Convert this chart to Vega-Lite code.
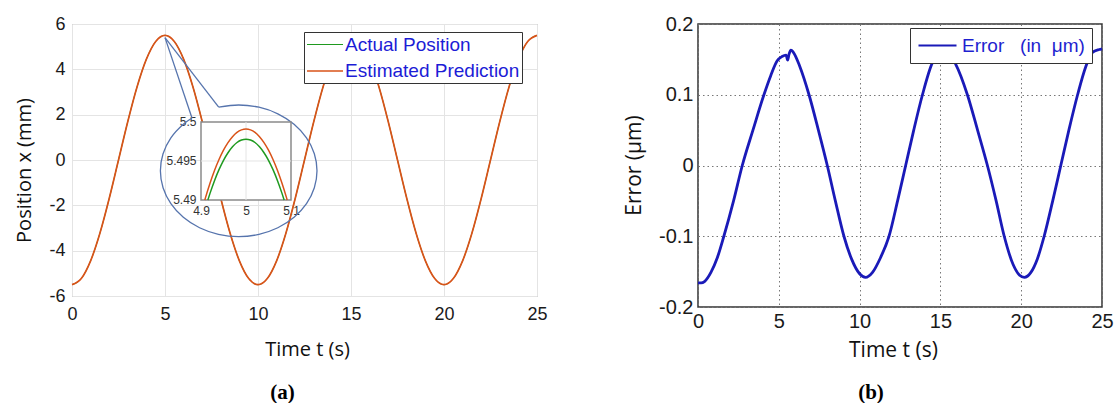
{
"$schema":"https://vega.github.io/schema/vega-lite/v6.json",
"autosize":{"type":"pad"},
"padding":{"left":13,"top":13,"right":0,"bottom":0},
"background":"white",
"bounds":"flush",
"spacing":161,
"config":{"font":"Liberation Sans","axis":{"labelFont":"Liberation Sans","titleFont":"Open Sans","titleFontWeight":"normal","titleColor":"#111","labelColor":"#1a1a1a","labelFlush":false,"labelOverlap":false},"legend":{"labelFont":"Liberation Sans"}},
"datasets":{
"pos":[
{"t":0,"a":-5.5,"e":-5.5},{"t":0.5,"a":-5.2308,"e":-5.2308},{"t":1,"a":-4.4496,"e":-4.4496},{"t":1.5,"a":-3.2328,"e":-3.2328},{"t":2,"a":-1.6996,"e":-1.6996},{"t":2.5,"a":0,"e":0},{"t":3,"a":1.6996,"e":1.6996},{"t":3.5,"a":3.2328,"e":3.2328},{"t":4,"a":4.4496,"e":4.4496},{"t":4.5,"a":5.2308,"e":5.2308},
{"t":5,"a":5.4978,"e":5.4991},{"t":5.5,"a":5.2308,"e":5.2308},{"t":6,"a":4.4496,"e":4.4496},{"t":6.5,"a":3.2328,"e":3.2328},{"t":7,"a":1.6996,"e":1.6996},{"t":7.5,"a":0,"e":0},{"t":8,"a":-1.6996,"e":-1.6996},{"t":8.5,"a":-3.2328,"e":-3.2328},{"t":9,"a":-4.4496,"e":-4.4496},{"t":9.5,"a":-5.2308,"e":-5.2308},
{"t":10,"a":-5.5,"e":-5.5},{"t":10.5,"a":-5.2308,"e":-5.2308},{"t":11,"a":-4.4496,"e":-4.4496},{"t":11.5,"a":-3.2328,"e":-3.2328},{"t":12,"a":-1.6996,"e":-1.6996},{"t":12.5,"a":0,"e":0},{"t":13,"a":1.6996,"e":1.6996},{"t":13.5,"a":3.2328,"e":3.2328},{"t":14,"a":4.4496,"e":4.4496},{"t":14.5,"a":5.2308,"e":5.2308},
{"t":15,"a":5.4978,"e":5.4991},{"t":15.5,"a":5.2308,"e":5.2308},{"t":16,"a":4.4496,"e":4.4496},{"t":16.5,"a":3.2328,"e":3.2328},{"t":17,"a":1.6996,"e":1.6996},{"t":17.5,"a":0,"e":0},{"t":18,"a":-1.6996,"e":-1.6996},{"t":18.5,"a":-3.2328,"e":-3.2328},{"t":19,"a":-4.4496,"e":-4.4496},{"t":19.5,"a":-5.2308,"e":-5.2308},
{"t":20,"a":-5.5,"e":-5.5},{"t":20.5,"a":-5.2308,"e":-5.2308},{"t":21,"a":-4.4496,"e":-4.4496},{"t":21.5,"a":-3.2328,"e":-3.2328},{"t":22,"a":-1.6996,"e":-1.6996},{"t":22.5,"a":0,"e":0},{"t":23,"a":1.6996,"e":1.6996},{"t":23.5,"a":3.2328,"e":3.2328},{"t":24,"a":4.4496,"e":4.4496},{"t":24.5,"a":5.2308,"e":5.2308},{"t":25,"a":5.4978,"e":5.4991}
],
"ellipse":[
{"i":0,"t":7.887,"y":2.331},{"i":1,"t":8.962,"y":2.427},{"i":2,"t":10.052,"y":2.328},{"i":3,"t":11.067,"y":2.038},{"i":4,"t":11.939,"y":1.577},{"i":5,"t":12.608,"y":0.976},{"i":6,"t":13.029,"y":0.275},{"i":7,"t":13.172,"y":-0.476},{"i":8,"t":13.029,"y":-1.227},{"i":9,"t":12.608,"y":-1.928},{"i":10,"t":11.939,"y":-2.529},{"i":11,"t":11.067,"y":-2.99},{"i":12,"t":10.052,"y":-3.28},{"i":13,"t":8.962,"y":-3.379},{"i":14,"t":7.872,"y":-3.28},{"i":15,"t":6.857,"y":-2.99},{"i":16,"t":5.985,"y":-2.529},{"i":17,"t":5.316,"y":-1.928},{"i":18,"t":4.895,"y":-1.227},{"i":19,"t":4.752,"y":-0.476},{"i":20,"t":4.895,"y":0.275},{"i":21,"t":5.316,"y":0.976},{"i":22,"t":5.985,"y":1.577},{"i":23,"t":6.451,"y":1.854}
],
"callout":[
{"g":"a","t":5.0,"y":5.4},{"g":"a","t":7.887,"y":2.331},{"g":"b","t":5.0,"y":5.4},{"g":"b","t":6.451,"y":1.854}
],
"ibox":[{"x1":4.9,"x2":5.1,"y1":5.49,"y2":5.5}],
"igrid":[{"xa":5,"xb":5,"ya":5.49,"yb":5.5},{"xa":4.9,"xb":5.1,"ya":5.495,"yb":5.495}],
"iact":[
{"t":4.9152,"y":5.49},{"t":4.92,"y":5.49085},{"t":4.93,"y":5.49248},{"t":4.94,"y":5.49389},{"t":4.95,"y":5.49509},{"t":4.96,"y":5.49606},{"t":4.97,"y":5.49682},{"t":4.98,"y":5.49737},{"t":4.99,"y":5.49769},{"t":5.0,"y":5.4978},{"t":5.01,"y":5.49769},{"t":5.02,"y":5.49737},{"t":5.03,"y":5.49682},{"t":5.04,"y":5.49606},{"t":5.05,"y":5.49509},{"t":5.06,"y":5.49389},{"t":5.07,"y":5.49248},{"t":5.08,"y":5.49085},{"t":5.0848,"y":5.49}
],
"iest":[
{"t":4.9085,"y":5.49},{"t":4.91,"y":5.4903},{"t":4.92,"y":5.49215},{"t":4.93,"y":5.49378},{"t":4.94,"y":5.49519},{"t":4.95,"y":5.49639},{"t":4.96,"y":5.49736},{"t":4.97,"y":5.49812},{"t":4.98,"y":5.49867},{"t":4.99,"y":5.49899},{"t":5.0,"y":5.4991},{"t":5.01,"y":5.49899},{"t":5.02,"y":5.49867},{"t":5.03,"y":5.49812},{"t":5.04,"y":5.49736},{"t":5.05,"y":5.49639},{"t":5.06,"y":5.49519},{"t":5.07,"y":5.49378},{"t":5.08,"y":5.49215},{"t":5.09,"y":5.4903},{"t":5.0915,"y":5.49}
],
"err":[
{"t":0,"e":-0.166},{"t":0.2,"e":-0.166},{"t":0.4,"e":-0.164},{"t":0.8,"e":-0.151},{"t":1.2,"e":-0.13},{"t":1.6,"e":-0.1},{"t":2.2,"e":-0.05},{"t":2.74,"e":0},{"t":3.4,"e":0.05},{"t":4.08,"e":0.1},{"t":4.5,"e":0.127},{"t":4.9,"e":0.148},{"t":5.2,"e":0.154},{"t":5.45,"e":0.156},{"t":5.55,"e":0.149},{"t":5.63,"e":0.157},{"t":5.75,"e":0.163},{"t":5.9,"e":0.16},{"t":6.3,"e":0.14},{"t":6.87,"e":0.1},{"t":7.45,"e":0.05},{"t":8.0,"e":0},{"t":8.5,"e":-0.05},{"t":9.03,"e":-0.1},{"t":9.5,"e":-0.132},{"t":10.0,"e":-0.153},{"t":10.37,"e":-0.158},{"t":10.8,"e":-0.151},{"t":11.3,"e":-0.13},{"t":11.82,"e":-0.1},{"t":12.35,"e":-0.05},{"t":12.85,"e":0},{"t":13.35,"e":0.05},{"t":13.89,"e":0.1},{"t":14.5,"e":0.145},{"t":15.0,"e":0.16},{"t":15.3,"e":0.162},{"t":15.95,"e":0.143},{"t":16.67,"e":0.1},{"t":17.3,"e":0.05},{"t":17.91,"e":0},{"t":18.45,"e":-0.05},{"t":18.95,"e":-0.1},{"t":19.5,"e":-0.14},{"t":19.9,"e":-0.155},{"t":20.19,"e":-0.158},{"t":20.6,"e":-0.151},{"t":21.0,"e":-0.132},{"t":21.42,"e":-0.1},{"t":21.95,"e":-0.05},{"t":22.45,"e":0},{"t":22.95,"e":0.05},{"t":23.49,"e":0.1},{"t":24.0,"e":0.14},{"t":24.41,"e":0.16},{"t":24.83,"e":0.164},{"t":25,"e":0.165}
]
},
"resolve":{"scale":{"color":"independent","strokeWidth":"independent"},"legend":{"color":"independent"}},
"hconcat":[
{
"width":465,"height":272,
"view":{"stroke":"#9a9a9a","strokeWidth":1},
"title":{"text":"(a)","orient":"bottom","anchor":"middle","font":"Liberation Serif","fontSize":21,"fontWeight":"bold","color":"#000","offset":23,"dx":-22},
"layer":[
{"layer":[
{"data":{"name":"pos"},
"transform":[{"fold":["a","e"],"as":["s","v"]}],
"mark":{"type":"line","interpolate":"monotone"},
"encoding":{
"x":{"field":"t","type":"quantitative","scale":{"domain":[0,25],"nice":false,"zero":false},
"axis":{"values":[0,5,10,15,20,25],"labelExpr":"datum.value + ''","labelFontSize":18,"labelPadding":9,"ticks":false,"domain":false,"grid":true,"gridColor":"#e4e4e4","title":"Time t (s)","titleFontSize":20,"titleX":235,"titleY":53,"titleBaseline":"middle","titleAlign":"center"}},
"y":{"field":"v","type":"quantitative","scale":{"domain":[-6,6],"nice":false,"zero":false},
"axis":{"values":[-6,-4,-2,0,2,4,6],"labelExpr":"datum.value + ''","labelFontSize":18,"labelPadding":7,"ticks":false,"domain":false,"grid":true,"gridColor":"#e4e4e4","title":"Position x (mm)","titleFontSize":20,"titleX":-48,"titleY":146,"titleAngle":-90,"titleBaseline":"middle","titleAlign":"center"}},
"strokeWidth":{"field":"s","type":"nominal","scale":{"domain":["a","e"],"range":[1,1.7]},"legend":null},
"color":{"field":"s","type":"nominal","scale":{"domain":["a","e"],"range":["#1f9a1f","#d95319"]},
"legend":{"orient":"none","legendX":232,"legendY":8,"title":null,"symbolType":"M-1.8,0H1.8","symbolSize":400,"symbolOffset":8,"symbolStrokeWidth":1.5,"labelFontSize":19,"labelColor":"#1c1cd6","labelLimit":400,"labelOffset":9,"padding":2,"rowPadding":5,"strokeColor":"#333","fillColor":"white","labelExpr":"datum.value == 'a' ? 'Actual Position' : 'Estimated Prediction'"}}
}},
{"data":{"name":"ellipse"},"mark":{"type":"line","interpolate":"catmull-rom","color":"#5674ad","strokeWidth":1.3},
"encoding":{"x":{"field":"t","type":"quantitative","scale":{"domain":[0,25],"nice":false,"zero":false}},"y":{"field":"y","type":"quantitative","scale":{"domain":[-6,6],"nice":false,"zero":false}},"order":{"field":"i","type":"quantitative"}}},
{"data":{"name":"callout"},"mark":{"type":"line","color":"#5674ad","strokeWidth":1.3},
"encoding":{"x":{"field":"t","type":"quantitative","scale":{"domain":[0,25],"nice":false,"zero":false}},"y":{"field":"y","type":"quantitative","scale":{"domain":[-6,6],"nice":false,"zero":false}},"detail":{"field":"g","type":"nominal"}}}
]},
{"layer":[
{"data":{"name":"ibox"},"mark":{"type":"rect","fill":"white","stroke":"#8a8a8a","strokeWidth":1.5},
"encoding":{
"x":{"field":"x1","type":"quantitative","scale":{"domain":[4.61333,5.64667],"nice":false,"zero":false},
"axis":{"orient":"bottom","offset":-96,"values":[4.9,5,5.1],"labelExpr":"datum.value + ''","labelFontSize":12,"labelPadding":5,"labelColor":"#333","ticks":false,"domain":false,"grid":false,"title":null}},
"x2":{"field":"x2"},
"y":{"field":"y1","type":"quantitative","scale":{"domain":[5.477692,5.512564],"nice":false,"zero":false},
"axis":{"orient":"left","offset":-129,"values":[5.49,5.495,5.5],"labelExpr":"datum.value + ''","labelFontSize":12,"labelPadding":5,"labelColor":"#333","ticks":false,"domain":false,"grid":false,"title":null}},
"y2":{"field":"y2"}}},
{"data":{"name":"igrid"},"mark":{"type":"rule","color":"#e4e4e4","strokeWidth":1},
"encoding":{"x":{"field":"xa","type":"quantitative"},"x2":{"field":"xb"},"y":{"field":"ya","type":"quantitative"},"y2":{"field":"yb"}}},
{"data":{"name":"iact"},"mark":{"type":"line","interpolate":"monotone","color":"#1f9a1f","strokeWidth":1.5},
"encoding":{"x":{"field":"t","type":"quantitative"},"y":{"field":"y","type":"quantitative"}}},
{"data":{"name":"iest"},"mark":{"type":"line","interpolate":"monotone","color":"#d95319","strokeWidth":1.5},
"encoding":{"x":{"field":"t","type":"quantitative"},"y":{"field":"y","type":"quantitative"}}}
]}
],
"resolve":{"scale":{"x":"independent","y":"independent"},"axis":{"x":"independent","y":"independent"}}
},
{
"width":404,"height":283,
"view":{"stroke":"#333","strokeWidth":1.5},
"title":{"text":"(b)","orient":"bottom","anchor":"middle","font":"Liberation Serif","fontSize":21,"fontWeight":"bold","color":"#000","offset":22,"dx":-29},
"data":{"name":"err"},
"mark":{"type":"line","strokeWidth":2.8,"interpolate":"monotone"},
"encoding":{
"x":{"field":"t","type":"quantitative","scale":{"domain":[0,25],"nice":false,"zero":false},
"axis":{"values":[0,5,10,15,20,25],"labelExpr":"datum.value + ''","labelFontSize":20,"labelPadding":4,"ticks":false,"domain":false,"gridColor":"#777","gridDash":[1.5,3],"gridWidth":1,"title":"Time t (s)","titleFontSize":21,"titleX":195,"titleY":43,"titleBaseline":"middle","titleAlign":"center"}},
"y":{"field":"e","type":"quantitative","scale":{"domain":[-0.2,0.2],"nice":false,"zero":false},
"axis":{"values":[-0.2,-0.1,0,0.1,0.2],"labelExpr":"datum.value + ''","labelFontSize":20,"labelPadding":5,"ticks":false,"domain":false,"gridColor":"#777","gridDash":[1.5,3],"gridWidth":1,"title":"Error (μm)","titleFontSize":21,"titleX":-64,"titleY":141,"titleAngle":-90,"titleBaseline":"middle","titleAlign":"center"}},
"color":{"datum":"Error\u00a0\u00a0\u00a0(in\u00a0\u00a0μm)","type":"nominal","scale":{"range":["#1a1ab8"]},
"legend":{"orient":"none","legendX":212,"legendY":4,"title":null,"symbolType":"M-2,0H2","symbolSize":361,"symbolOffset":10,"symbolStrokeWidth":2,"labelFontSize":19,"labelColor":"#1f1fd0","labelLimit":400,"labelOffset":14,"padding":7,"strokeColor":"#333","fillColor":"white"}}
}
}
]
}
